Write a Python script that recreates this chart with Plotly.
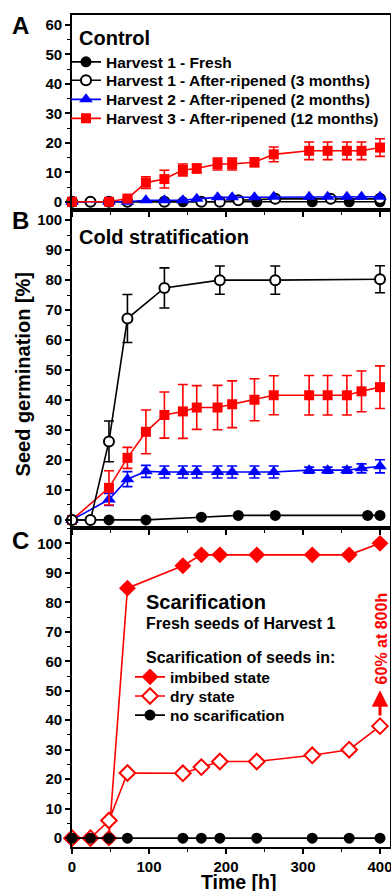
import plotly.graph_objects as go

# ---------------- data ----------------
# Panel A - Control
t_a_fresh = [0, 24, 48, 72, 144, 240, 312, 360, 400]
a_fresh = [0, 0, 0, 0, 0, 0, 0, 0, 0]

t_a_ar3 = [0, 24, 48, 72, 120, 168, 192, 216, 264, 336, 400]
a_ar3 = [0, 0, 0, 0, 0, 0, 0, 0.5, 1, 1, 1]

t_h23 = [0, 48, 72, 96, 120, 144, 162, 189, 208, 237, 262, 308, 332, 357, 376, 400]
a_h2 = [0, 0, 0, 0.5, 0.5, 0.5, 1, 1.5, 1.5, 1.5, 1.7, 1.7, 1.7, 1.7, 1.7, 1.7]
a_h3 = [0, 0, 1.1, 6.5, 7.7, 10.8, 11.3, 12.8, 12.8, 13.4, 16.1, 17.3, 17.3, 17.3, 17.3, 18.4]
a_h3_err = [0, 0, 0.5, 2, 3, 2, 1.5, 2, 2, 1.5, 2.5, 3, 3, 3, 3, 3]

# Panel B - Cold stratification
t_b_fresh = [0, 48, 96, 168, 216, 264, 384, 400]
b_fresh = [0, 0, 0, 0.9, 1.5, 1.5, 1.5, 1.5]

t_b_ar3 = [0, 24, 48, 72, 120, 192, 264, 400]
b_ar3 = [0, 0, 26.2, 67.2, 77.4, 80, 80, 80.3]
b_ar3_err = [0, 0, 6.8, 8, 6.7, 4.7, 4.7, 4.5]

b_h2 = [0, 6.8, 13.6, 16.2, 16, 16, 16, 16, 16, 16, 16, 16.6, 16.6, 16.6, 17.2, 17.9]
b_h2_err = [0, 2, 2.5, 2, 2, 2, 2, 2, 2, 2, 2, 1, 1, 1, 1.5, 2.2]
b_h3 = [0, 10.7, 20.7, 29.4, 35, 36.2, 37.5, 37.5, 38.6, 40.1, 41.6, 41.6, 41.6, 41.6, 42.9, 44.3]
b_h3_err = [0, 5.7, 3.5, 7.3, 7.7, 9, 7.3, 7.4, 7.8, 7, 6.5, 6.6, 6.6, 6.6, 6.8, 7.1]

# Panel C - Scarification
t_c = [0, 24, 48, 72, 144, 168, 192, 240, 312, 360, 400]
c_imbibed = [0, 0, 0, 84.8, 92.4, 96.1, 96.1, 96.1, 96.1, 96.1, 100]
c_dry = [0, 0, 6, 22.1, 22, 24.1, 26, 26, 28.1, 30, 38]
c_none = [0, 0, 0, 0, 0, 0, 0, 0, 0, 0, 0]

x_ticks = [0, 100, 200, 300, 400]

names_a = ["Harvest 1 - Fresh", "Harvest 1 - After-ripened (3 months)",
           "Harvest 2 - After-ripened (2 months)", "Harvest 3 - After-ripened (12 months)"]
names_c = ["imbibed state", "dry state", "no scarification"]

# ---------------- styles ----------------
FONT = "Liberation Sans, Arial, sans-serif"
RED = "#ff0000"
BLUE = "#0000ff"
BLACK = "#000000"
LW = 1.6


def err(arr, color):
    return dict(type="data", array=arr, visible=True, color=color, thickness=1.6, width=5)


fig = go.Figure()

# ---- Panel A ----
fig.add_trace(go.Scatter(x=t_a_fresh, y=a_fresh, mode="lines+markers", name="<b>%s</b>" % names_a[0],
                         line=dict(color=BLACK, width=LW),
                         marker=dict(symbol="circle", size=11, color=BLACK),
                         xaxis="x", yaxis="y", legend="legend", cliponaxis=False))
fig.add_trace(go.Scatter(x=t_a_ar3, y=a_ar3, mode="lines+markers", name="<b>%s</b>" % names_a[1],
                         line=dict(color=BLACK, width=LW),
                         marker=dict(symbol="circle", size=10, color="white", line=dict(color=BLACK, width=2)),
                         xaxis="x", yaxis="y", legend="legend2", cliponaxis=False))
fig.add_trace(go.Scatter(x=t_h23, y=a_h2, mode="lines+markers", name="<b>%s</b>" % names_a[2],
                         line=dict(color=BLUE, width=LW),
                         marker=dict(symbol="triangle-up", size=12, color=BLUE),
                         xaxis="x", yaxis="y", legend="legend3", cliponaxis=False))
fig.add_trace(go.Scatter(x=t_h23, y=a_h3, mode="lines+markers", name="<b>%s</b>" % names_a[3],
                         line=dict(color=RED, width=LW),
                         marker=dict(symbol="square", size=10, color=RED),
                         error_y=err(a_h3_err, RED),
                         xaxis="x", yaxis="y", legend="legend4", cliponaxis=False))

# ---- Panel B ----
fig.add_trace(go.Scatter(x=t_b_fresh, y=b_fresh, mode="lines+markers", showlegend=False,
                         line=dict(color=BLACK, width=LW),
                         marker=dict(symbol="circle", size=11, color=BLACK),
                         xaxis="x2", yaxis="y2", cliponaxis=False))
fig.add_trace(go.Scatter(x=t_h23, y=b_h2, mode="lines+markers", showlegend=False,
                         line=dict(color=BLUE, width=LW),
                         marker=dict(symbol="triangle-up", size=12, color=BLUE),
                         error_y=err(b_h2_err, BLUE),
                         xaxis="x2", yaxis="y2", cliponaxis=False))
fig.add_trace(go.Scatter(x=t_h23, y=b_h3, mode="lines+markers", showlegend=False,
                         line=dict(color=RED, width=LW),
                         marker=dict(symbol="square", size=10, color=RED),
                         error_y=err(b_h3_err, RED),
                         xaxis="x2", yaxis="y2", cliponaxis=False))
fig.add_trace(go.Scatter(x=t_b_ar3, y=b_ar3, mode="lines+markers", showlegend=False,
                         line=dict(color=BLACK, width=LW),
                         marker=dict(symbol="circle", size=10, color="white", line=dict(color=BLACK, width=2)),
                         error_y=err(b_ar3_err, BLACK),
                         xaxis="x2", yaxis="y2", cliponaxis=False))

# ---- Panel C ----
fig.add_trace(go.Scatter(x=t_c, y=c_imbibed, mode="lines+markers", name="<b>%s</b>" % names_c[0],
                         line=dict(color=RED, width=LW),
                         marker=dict(symbol="diamond", size=13, color=RED),
                         xaxis="x3", yaxis="y3", legend="legend5", cliponaxis=False))
fig.add_trace(go.Scatter(x=t_c, y=c_dry, mode="lines+markers", name="<b>%s</b>" % names_c[1],
                         line=dict(color=RED, width=LW),
                         marker=dict(symbol="diamond", size=12, color="white", line=dict(color=RED, width=2)),
                         xaxis="x3", yaxis="y3", legend="legend6", cliponaxis=False))
fig.add_trace(go.Scatter(x=t_c, y=c_none, mode="lines+markers", name="<b>%s</b>" % names_c[2],
                         line=dict(color=BLACK, width=LW),
                         marker=dict(symbol="circle", size=11, color=BLACK),
                         xaxis="x3", yaxis="y3", legend="legend7", cliponaxis=False))

# ---------------- layout ----------------
dom_c = [0.0, 0.3834]
dom_b = [0.3834, 0.7656]
dom_a = [0.7656, 1.0]
XR = [0, 413]

tickfont = dict(family=FONT, size=15, color=BLACK, weight="bold")


def xax(anchor, labels):
    return dict(domain=[0, 1], anchor=anchor, range=XR, showline=True, linecolor=BLACK, linewidth=1.6,
                mirror=True, ticks="outside", ticklen=5, tickwidth=1.5, tickcolor=BLACK,
                tickvals=x_ticks, showticklabels=labels, tickfont=tickfont, ticklabeloverflow="allow",
                minor=dict(dtick=50, tick0=0, ticks="outside", ticklen=3, tickwidth=1.2, tickcolor=BLACK),
                showgrid=False, zeroline=False, fixedrange=True, automargin=False)


def yax(anchor, dom, rng):
    return dict(domain=dom, anchor=anchor, range=rng, showline=True, linecolor=BLACK, linewidth=1.6,
                mirror=True, ticks="outside", ticklen=5, tickwidth=1.5, tickcolor=BLACK,
                tick0=0, dtick=10, tickfont=tickfont, ticklabeloverflow="allow",
                minor=dict(dtick=5, tick0=0, ticks="outside", ticklen=3, tickwidth=1.2, tickcolor=BLACK),
                showgrid=False, zeroline=False, fixedrange=True, automargin=False)


def bold(s):
    return "<b>%s</b>" % s


annotations = [
    dict(text=bold("A"), xref="paper", yref="paper", x=-0.1635, y=0.9876, showarrow=False,
         font=dict(family=FONT, size=24, color=BLACK), xanchor="center", yanchor="middle"),
    dict(text=bold("B"), xref="paper", yref="paper", x=-0.1635, y=0.753, showarrow=False,
         font=dict(family=FONT, size=24, color=BLACK), xanchor="center", yanchor="middle"),
    dict(text=bold("C"), xref="paper", yref="paper", x=-0.1635, y=0.3686, showarrow=False,
         font=dict(family=FONT, size=24, color=BLACK), xanchor="center", yanchor="middle"),
    dict(text=bold("Control"), xref="paper", yref="paper", x=0.0157, y=0.972, showarrow=False,
         font=dict(family=FONT, size=20, color=BLACK), xanchor="left", yanchor="middle"),
    dict(text=bold("Cold stratification"), xref="paper", yref="paper", x=0.0157, y=0.733, showarrow=False,
         font=dict(family=FONT, size=20, color=BLACK), xanchor="left", yanchor="middle"),
    dict(text=bold("Scarification"), xref="paper", yref="paper", x=0.2264, y=0.2941, showarrow=False,
         font=dict(family=FONT, size=20, color=BLACK), xanchor="left", yanchor="middle"),
    dict(text=bold("Fresh seeds of Harvest 1"), xref="paper", yref="paper", x=0.2264, y=0.2689, showarrow=False,
         font=dict(family=FONT, size=16, color=BLACK), xanchor="left", yanchor="middle"),
    dict(text=bold("Scarification of seeds in:"), xref="paper", yref="paper", x=0.2264, y=0.228, showarrow=False,
         font=dict(family=FONT, size=16, color=BLACK), xanchor="left", yanchor="middle"),
    dict(text=bold("60% at 800h"), xref="x3", yref="y3", x=401.5, y=67.8, showarrow=False, textangle=-90,
         font=dict(family=FONT, size=16, color=RED), xanchor="center", yanchor="middle"),
    dict(text="", xref="x3", yref="y3", x=400, y=50.2, ax=400, ay=41.1, axref="x3", ayref="y3",
         showarrow=True, arrowcolor=RED, arrowwidth=3, arrowhead=2, arrowsize=1.1),
    dict(text=bold("Time [h]"), xref="paper", yref="paper", x=0.525, y=-0.0418, showarrow=False,
         font=dict(family=FONT, size=19.5, color=BLACK), xanchor="center", yanchor="middle"),
    dict(text=bold("Seed germination [%]"), xref="paper", yref="paper", x=-0.154, y=0.568, showarrow=False,
         textangle=-90, font=dict(family=FONT, size=20, color=BLACK), xanchor="center", yanchor="middle"),
]

legfont = dict(family=FONT, size=15.5, color=BLACK)


def leg(x, y):
    return dict(x=x, y=y, xanchor="left", yanchor="middle", bgcolor="rgba(0,0,0,0)",
                font=legfont, borderwidth=0)


LXA = -0.0189
LXC = 0.1824

fig.update_layout(
    width=391, height=891,
    margin=dict(l=72, r=1, t=15, b=44, autoexpand=False),
    paper_bgcolor="white", plot_bgcolor="white",
    font=dict(family=FONT, color=BLACK),
    xaxis=xax("y", False),
    xaxis2=xax("y2", False),
    xaxis3=xax("y3", True),
    yaxis=yax("x", dom_a, [-2.8, 63.4]),
    yaxis2=yax("x2", dom_b, [-2.7, 103.4]),
    yaxis3=yax("x3", dom_c, [-3.0, 105.2]),
    legend=leg(LXA, 0.9432),
    legend2=leg(LXA, 0.921),
    legend3=leg(LXA, 0.8981),
    legend4=leg(LXA, 0.8753),
    legend5=leg(LXC, 0.204),
    legend6=leg(LXC, 0.181),
    legend7=leg(LXC, 0.158),
    annotations=annotations,
    showlegend=True,
)

fig.write_html("out.html", config={"displayModeBar": False},
               post_script="document.body.style.margin='0';document.body.style.overflow='hidden';")
